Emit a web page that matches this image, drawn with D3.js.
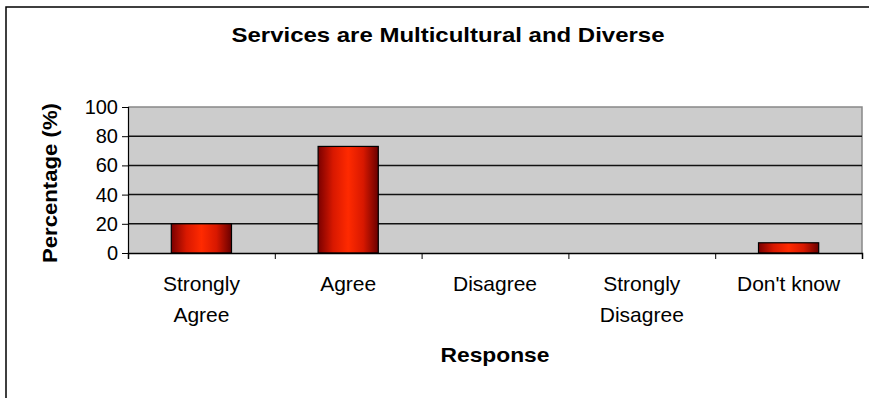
<!DOCTYPE html>
<html><head><meta charset="utf-8">
<script src="https://cdn.jsdelivr.net/npm/d3@7"></script>
<style>body{margin:0;background:#fff}svg{display:block}text{font-family:"Liberation Sans",Arial,sans-serif}</style>
</head><body>
<svg id="c" width="869" height="398"></svg>
<script>
const categories = [["Strongly","Agree"],["Agree"],["Disagree"],["Strongly","Disagree"],["Don't know"]];
const values = [20, 73, 0, 0, 7];
const yTicks = [0, 20, 40, 60, 80, 100];
const title = "Services are Multicultural and Diverse";
const xTitle = "Response";
const yTitle = "Percentage (%)";

const svg = d3.select("#c");
const W = 869, H = 398;
const m = {left:128, right:7, top:107, bottom:145};
const x0 = m.left, x1 = W - m.right, y0 = H - m.bottom, y1 = m.top;

const defs = svg.append("defs");
const g = defs.append("linearGradient").attr("id","bar").attr("x1","0").attr("x2","1").attr("y1","0").attr("y2","0");
[[0,"#7a0000"],[0.25,"#d81800"],[0.5,"#ff2a00"],[0.75,"#d81800"],[1,"#6a0000"]].forEach(([o,c])=>g.append("stop").attr("offset",o).attr("stop-color",c));

svg.append("rect").attr("x",6).attr("y",7).attr("width",W).attr("height",H).attr("fill","none").attr("stroke","#000").attr("stroke-width",1.5);

const x = d3.scaleBand().domain(d3.range(categories.length)).range([x0,x1]).paddingInner(0.59).paddingOuter(0.295);
const y = d3.scaleLinear().domain([0,100]).range([y0,y1]);

svg.append("rect").attr("x",x0).attr("y",y1).attr("width",x1-x0).attr("height",y0-y1).attr("fill","#cccccc");
svg.append("path").attr("d",`M${x0},${y1}H${x1}V${y0}`).attr("fill","none").attr("stroke","#888").attr("stroke-width",1.5);

svg.append("g").selectAll("line").data(yTicks.filter(d=>d>0&&d<100)).join("line")
  .attr("x1",x0).attr("x2",x1).attr("y1",d=>y(d)).attr("y2",d=>y(d))
  .attr("stroke","#111").attr("stroke-width",1.5);

svg.append("g").selectAll("rect").data(values).join("rect")
  .attr("x",(d,i)=>x(i)).attr("width",x.bandwidth())
  .attr("y",d=>y(d)).attr("height",d=>y0-y(d))
  .attr("fill","url(#bar)").attr("stroke","#000").attr("stroke-width",1.2)
  .attr("display",d=>d>0?null:"none");

const ya = d3.axisLeft(y).tickValues(yTicks).tickSize(6).tickPadding(4);
const yg = svg.append("g").attr("transform",`translate(${x0},0)`).call(ya);
yg.select(".domain").attr("stroke","#000").attr("stroke-width",1.2);
yg.selectAll("line").attr("stroke","#000");
yg.selectAll("text").attr("font-size",20).attr("fill","#000");

const xb = d3.scaleLinear().domain([0,categories.length]).range([x0,x1]);
const xa = d3.axisBottom(xb).tickValues(d3.range(categories.length+1)).tickSize(6).tickFormat("");
const xg = svg.append("g").attr("transform",`translate(0,${y0})`).call(xa);
xg.select(".domain").attr("stroke","#000").attr("stroke-width",1.5);
xg.selectAll("line").attr("stroke","#000");

const lab = svg.append("g").selectAll("text").data(categories).join("text")
  .attr("x",(d,i)=>x(i)+x.bandwidth()/2).attr("y",291)
  .attr("text-anchor","middle").attr("font-size",21).attr("fill","#000");
lab.selectAll("tspan").data(d=>d).join("tspan")
  .attr("x",function(){return this.parentNode.getAttribute("x");})
  .attr("dy",(d,i)=>i?31:0).text(d=>d);

svg.append("text").attr("x",(x0+x1)/2).attr("y",362).attr("text-anchor","middle")
  .attr("font-size",21).attr("font-weight","bold").attr("textLength",109).attr("lengthAdjust","spacingAndGlyphs").text(xTitle);

svg.append("text").attr("transform",`translate(57,${(y0+y1)/2 + 3}) rotate(-90)`).attr("text-anchor","middle")
  .attr("font-size",21).attr("font-weight","bold").attr("textLength",160).attr("lengthAdjust","spacingAndGlyphs").text(yTitle);

svg.append("text").attr("x",448).attr("y",42).attr("text-anchor","middle")
  .attr("font-size",21).attr("font-weight","bold").attr("textLength",433).attr("lengthAdjust","spacingAndGlyphs").text(title);
</script>
</body></html>
